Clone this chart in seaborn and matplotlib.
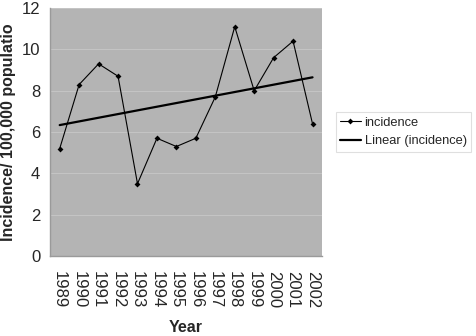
import matplotlib
matplotlib.use("Agg")
import matplotlib.pyplot as plt
import seaborn as sns
import numpy as np
import pandas as pd
from matplotlib.ticker import FixedLocator

years = ["1989", "1990", "1991", "1992", "1993", "1994", "1995", "1996",
         "1997", "1998", "1999", "2000", "2001", "2002"]
incidence = [5.2, 8.3, 9.3, 8.7, 3.5, 5.7, 5.3, 5.7, 7.7, 11.1, 8.0, 9.6, 10.4, 6.4]
yticks = [0, 2, 4, 6, 8, 10, 12]

sns.set_theme(style="white")
plt.rcParams['font.family'] = ['Liberation Sans', 'DejaVu Sans']

idx = np.arange(len(years))
df = pd.DataFrame({"idx": idx, "incidence": incidence})
slope, intercept = np.polyfit(idx, incidence, 1)
df["trend"] = slope * idx + intercept

fig = plt.figure(figsize=(4.76, 3.36), dpi=100)
ax = fig.add_axes([0.105, 0.238, 0.572, 0.738])
ax.set_facecolor("#b4b4b4")

for y in yticks[1:]:
    ax.axhline(y, color="#c4c4c4", lw=0.8, zorder=0)

sns.lineplot(data=df, x="idx", y="incidence", ax=ax, color="black", lw=0.8,
             marker="D", markersize=3, markeredgewidth=0, label="incidence")
sns.lineplot(data=df, x="idx", y="trend", ax=ax, color="black", lw=1.6,
             label="Linear (incidence)")

ax.set_xlim(-0.5, len(years) - 0.5)
ax.set_ylim(0, 12)
ax.set_yticks(yticks)
ax.set_yticklabels([str(v) for v in yticks], fontsize=12)
ax.set_xticks(idx)
ax.set_xticklabels(years, rotation=270, fontsize=12)
ax.xaxis.set_minor_locator(FixedLocator(np.arange(-0.5, len(years), 1)))
ax.tick_params(axis="x", which="major", length=0, pad=11)
ax.tick_params(axis="x", which="minor", length=4, color="#c8c8c8", direction="out")
ax.tick_params(axis="y", which="major", length=4, color="#c8c8c8", direction="out", pad=3)

for s in ["left", "bottom"]:
    ax.spines[s].set_color("#9a9a9a")
    ax.spines[s].set_linewidth(1.0)
for s in ["top", "right"]:
    ax.spines[s].set_visible(False)

ax.set_xlabel("Year", fontsize=11.5, fontweight="bold", labelpad=8)
ax.set_ylabel("Incidence/ 100,000 populatio", fontsize=11.5, fontweight="bold", labelpad=4)

leg = ax.legend(loc="center left", bbox_to_anchor=(1.025, 0.5), frameon=True,
                fancybox=False, handlelength=1.6, handletextpad=0.3,
                borderpad=0.35, labelspacing=0.5, fontsize=9.3)
leg.get_frame().set_edgecolor("#d8d8d8")
leg.get_frame().set_linewidth(0.8)

fig.savefig("out.png", dpi=100)
